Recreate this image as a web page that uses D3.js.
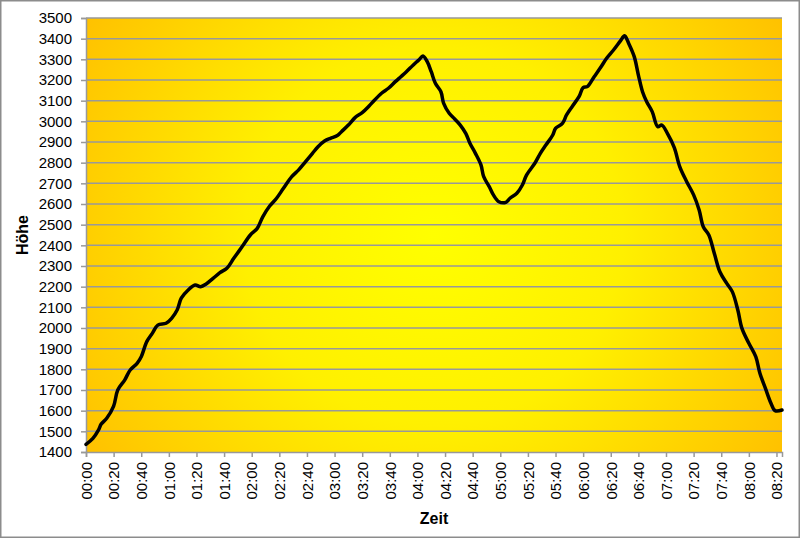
<!DOCTYPE html>
<html>
<head>
<meta charset="utf-8">
<script src="https://cdn.jsdelivr.net/npm/d3@7"></script>
<style>
  body { margin: 0; background: #fff; }
  text { font-family: "Liberation Sans", Arial, sans-serif; fill: #000; }
</style>
</head>
<body>
<div id="chart"></div>
<script>
// Time in minutes since start
const minutes = [0, 5, 9, 11, 15, 20, 23, 28, 32, 37, 40, 44, 48, 52, 58, 62, 66, 69, 74, 79, 83, 87, 92, 97,
  102, 107, 113, 119, 124, 128, 133, 138, 143, 149, 154, 159, 164, 168, 173, 177, 182, 185, 190, 195,
  200, 205, 209, 214, 219, 224, 228, 232, 237, 241, 244, 247, 250, 253, 257, 259, 263, 267, 271, 275,
  278, 282, 286, 288, 292, 295, 299, 304, 307, 312, 316, 319, 325, 329, 333, 338, 340, 345, 348, 352,
  357, 360, 363, 368, 373, 377, 382, 387, 390, 393, 397, 400, 403, 406, 410, 414, 417, 421, 426, 430,
  435, 440, 444, 447, 451, 455, 459, 464, 468, 472, 475, 480, 485, 488, 492, 496, 499, 504];
// Height (Höhe) values
const heights = [1437, 1466, 1506, 1535, 1563, 1622, 1700, 1748, 1797, 1829, 1861, 1934, 1974, 2014, 2023, 2047, 2087, 2144, 2184, 2208, 2200, 2213, 2240, 2268,
  2289, 2337, 2393, 2450, 2482, 2538, 2590, 2628, 2676, 2732, 2765, 2805, 2845, 2877, 2906, 2918, 2931, 2950, 2982, 3019,
  3042, 3074, 3103, 3136, 3160, 3192, 3216, 3240, 3273, 3297, 3316, 3290, 3240, 3184, 3143, 3087, 3039, 3011, 2982, 2942,
  2894, 2845, 2789, 2732, 2684, 2644, 2611, 2608, 2628, 2652, 2692, 2740, 2797, 2845, 2885, 2934, 2966, 2990, 3031, 3071,
  3119, 3163, 3168, 3216, 3264, 3305, 3345, 3389, 3414, 3377, 3313, 3224, 3143, 3095, 3047, 2974, 2982, 2942, 2873, 2780,
  2708, 2644, 2571, 2490, 2450, 2361, 2272, 2216, 2176, 2087, 1998, 1926, 1861, 1781, 1708, 1636, 1600, 1603];

const xTicks = d3.range(0, 501, 20);           // every 20 minutes, 00:00 .. 08:20
const yTicks = d3.range(1400, 3501, 100);

const data = minutes.map((m, i) => ({ t: m, h: heights[i] }));

const W = 800, H = 538;
const margin = { top: 18, right: 18, bottom: 86, left: 86 };
const width = W - margin.left - margin.right;
const height = H - margin.top - margin.bottom;

const svg = d3.select('#chart').append('svg')
  .attr('width', W)
  .attr('height', H);

// outer frame
svg.append('rect')
  .attr('x', 0.75).attr('y', 0.75)
  .attr('width', W - 1.5).attr('height', H - 1.5)
  .attr('fill', '#fff')
  .attr('stroke', '#8c8c8c')
  .attr('stroke-width', 1.5);

// background gradient for plot area
const grad = svg.append('defs').append('radialGradient')
  .attr('id', 'bg')
  .attr('gradientUnits', 'userSpaceOnUse')
  .attr('cx', margin.left + width / 2)
  .attr('cy', margin.top + height / 2)
  .attr('r', 420);
grad.append('stop').attr('offset', 0).attr('stop-color', '#ffff00');
grad.append('stop').attr('offset', 0.45).attr('stop-color', '#fff000');
grad.append('stop').attr('offset', 1).attr('stop-color', '#ffbf00');

const g = svg.append('g')
  .attr('transform', `translate(${margin.left},${margin.top})`);

g.append('rect')
  .attr('width', width)
  .attr('height', height)
  .attr('fill', 'url(#bg)')
  .attr('transform', `translate(0,0)`);
// gradient is in svg coords, so shift it back
g.select('rect').attr('fill', 'url(#bg)');
grad.attr('gradientTransform', `translate(${-margin.left},${-margin.top})`);

const x = d3.scaleLinear().domain([0, 504]).range([0, width]);
const y = d3.scaleLinear().domain([1400, 3500]).range([height, 0]);

// horizontal grid lines
g.append('g')
  .selectAll('line')
  .data(yTicks.slice(1))
  .enter().append('line')
  .attr('x1', 0).attr('x2', width)
  .attr('y1', d => y(d)).attr('y2', d => y(d))
  .attr('stroke', '#999')
  .attr('stroke-width', 1.5);

// Y axis
const yAxis = g.append('g')
  .call(d3.axisLeft(y).tickValues(yTicks).tickSize(5).tickPadding(9).tickFormat(d3.format('d')));
yAxis.select('.domain').attr('stroke', '#999').attr('stroke-width', 1.5);
yAxis.selectAll('.tick line').attr('stroke', '#999').attr('stroke-width', 1.5);
yAxis.selectAll('text')
  .style('font-family', '"Liberation Sans", Arial, sans-serif')
  .style('font-size', '15px')
  .attr('fill', '#000');

// X axis
const fmt = m => d3.format('02')(Math.floor(m / 60)) + ':' + d3.format('02')(m % 60);
const xAxis = g.append('g')
  .attr('transform', `translate(0,${height})`)
  .call(d3.axisBottom(x).tickValues(xTicks).tickSize(5).tickFormat(fmt));
xAxis.select('.domain').attr('stroke', '#999').attr('stroke-width', 1.5);
xAxis.selectAll('.tick line').attr('stroke', '#999').attr('stroke-width', 1.5);
xAxis.selectAll('text')
  .style('font-family', '"Liberation Sans", Arial, sans-serif')
  .style('font-size', '15px')
  .attr('fill', '#000')
  .attr('text-anchor', 'end')
  .attr('transform', 'rotate(-90)')
  .attr('x', -10)
  .attr('y', 0)
  .attr('dy', '0.35em');

// the line
const line = d3.line()
  .x(d => x(d.t))
  .y(d => y(d.h))
  .curve(d3.curveCatmullRom.alpha(0.5));

g.append('path')
  .datum(data)
  .attr('fill', 'none')
  .attr('stroke', '#000')
  .attr('stroke-width', 3.5)
  .attr('stroke-linejoin', 'round')
  .attr('stroke-linecap', 'round')
  .attr('d', line);

// axis titles
svg.append('text')
  .attr('transform', `translate(28,${margin.top + height / 2}) rotate(-90)`)
  .attr('text-anchor', 'middle')
  .style('font-size', '16px')
  .style('font-weight', 'bold')
  .text('Höhe');

svg.append('text')
  .attr('x', margin.left + width / 2)
  .attr('y', 524)
  .attr('text-anchor', 'middle')
  .style('font-size', '16px')
  .style('font-weight', 'bold')
  .text('Zeit');
</script>
</body>
</html>
